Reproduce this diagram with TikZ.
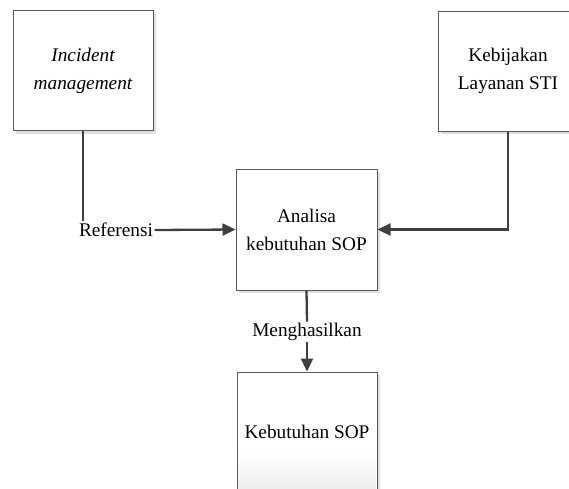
\documentclass[tikz,border=0pt]{standalone}
\usepackage{fontspec}
\setmainfont{Liberation Serif}
\usetikzlibrary{arrows.meta,shadows}
\definecolor{conn}{HTML}{3F3F3F}
\definecolor{boxline}{HTML}{5A5A5A}
\tikzset{
  procbox/.style={draw=boxline, line width=1pt, fill=white, minimum width=140pt, minimum height=120pt,
    align=center, inner sep=0pt,
    drop shadow={shadow xshift=3pt, shadow yshift=-3pt, fill=black!13, opacity=1}},
  lbl/.style={fill=white, inner sep=1.5pt, align=center},
  conline/.style={draw=conn, line width=2.3pt},
  conarrow/.style={conline, -{Triangle[length=13pt,width=12pt]}}
}
\begin{document}
\begin{tikzpicture}[x=1pt,y=-1pt, font=\fontsize{19.3}{28}\selectfont]
\useasboundingbox (0,0) rectangle (569,488);
\clip (0,0) rectangle (569,488);
\node[procbox] (inc) at (83,70.5) {\itshape Incident\\\itshape management};
\node[procbox] (keb) at (508,71) {Kebijakan\\Layanan STI};
\node[procbox, minimum width=141pt, minimum height=121pt] (ana) at (306.5,229.5) {Analisa\\kebutuhan SOP};
\node[procbox] (kso) at (307,432) {Kebutuhan SOP};
\foreach \i in {0,...,19}{
  \pgfmathsetmacro\shadeval{0.38*\i}
  \fill[black!\shadeval] ([xshift=1.6pt]kso.west |- 0,{452+2*\i}) rectangle ([xshift=-1.6pt]kso.east |- 0,{454.2+2*\i});
}
\node[lbl] (ref) at (116,230) {Referensi};
\node[lbl] (men) at (307,332) {Menghasilkan};
\draw[conline] (inc.south) -- (inc.south |- ref.north);
\draw[conarrow] (ref.east) -- (ana.west);
\draw[conarrow] (keb.south) |- (ana.east);
\draw[conline] (ana.south) -- (men.north);
\draw[conarrow] (men.south) -- (kso.north);
\end{tikzpicture}
\end{document}
